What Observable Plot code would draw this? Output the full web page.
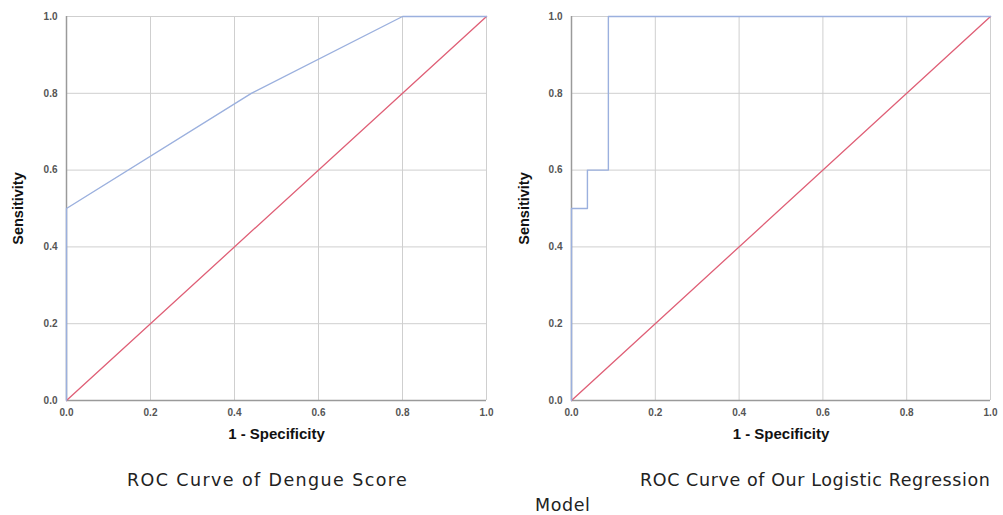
<!DOCTYPE html>
<html>
<head>
<meta charset="utf-8">
<script src="https://cdn.jsdelivr.net/npm/d3@7"></script>
<script src="https://cdn.jsdelivr.net/npm/@observablehq/plot@0.6"></script>
<style>
  html, body { margin: 0; padding: 0; background: #fff; }
  #wrap { position: relative; width: 1003px; height: 515px; overflow: hidden; }
  .panel { position: absolute; top: 0; }
  .cap { position: absolute; font-family: "DejaVu Sans", sans-serif; font-size: 17.5px; letter-spacing: 0.6px; color: #222; white-space: nowrap; line-height: 20px; }
</style>
</head>
<body>
<div id="wrap">
  <div class="panel" id="left" style="left:0px"></div>
  <div class="panel" id="right" style="left:500px"></div>
  <div class="cap" id="c1" style="left:127px; top:470px; letter-spacing:1.4px">ROC Curve of Dengue Score</div>
  <div class="cap" id="c2" style="left:640px; top:470px">ROC Curve of Our Logistic Regression</div>
  <div class="cap" id="c3" style="left:535px; top:495px">Model</div>
</div>
<script>
const ticks = [0, 0.2, 0.4, 0.6, 0.8, 1.0];

// ROC of Dengue Score
const dengueFpr = [0, 0, 0.44, 0.8, 1.0];
const dengueTpr = [0, 0.5, 0.8, 1.0, 1.0];

// ROC of Logistic Regression Model
const logitFpr = [0, 0, 0.038, 0.038, 0.088, 0.088, 1.0];
const logitTpr = [0, 0.5, 0.5, 0.6, 0.6, 1.0, 1.0];

// reference diagonal
const refFpr = [0, 1];
const refTpr = [0, 1];

const curveColor = "#9bb0de";
const refColor = "#df5f76";

function toPts(xs, ys) { return xs.map((x, i) => ({x, y: ys[i]})); }

function roc(el, fpr, tpr, opts) {
  const chart = Plot.plot({
    width: opts.width,
    height: 455,
    marginLeft: opts.ml,
    marginRight: opts.mr,
    marginTop: 16,
    marginBottom: 55,
    style: {fontFamily: "Liberation Sans, Arial, sans-serif", background: "transparent", overflow: "visible"},
    x: {domain: [0, 1], ticks: ticks},
    y: {domain: [0, 1], ticks: ticks},
    marks: [
      Plot.gridX(ticks, {stroke: "#cfcfcf", strokeOpacity: 1, strokeWidth: 1}),
      Plot.gridY(ticks, {stroke: "#cfcfcf", strokeOpacity: 1, strokeWidth: 1}),
      Plot.ruleX([0], {stroke: "#9a9a9a", strokeWidth: 1.5}),
      Plot.ruleY([0], {stroke: "#9a9a9a", strokeWidth: 1.5}),
      Plot.axisX(ticks, {tickSize: 0, tickPadding: 8, fontSize: 10, fill: "#555", fontWeight: "bold", tickFormat: ".1f", label: null}),
      Plot.axisY(ticks, {tickSize: 0, tickPadding: 9, fontSize: 10, fill: "#555", fontWeight: "bold", tickFormat: ".1f", label: null}),
      Plot.line(toPts(refFpr, refTpr), {x: "x", y: "y", stroke: refColor, strokeWidth: 1.3}),
      Plot.line(toPts(fpr, tpr), {x: "x", y: "y", stroke: curveColor, strokeWidth: 1.4}),
      Plot.text(["1 - Specificity"], {frameAnchor: "bottom", dy: 38, fontSize: 15, fontWeight: "bold", fill: "#111", letterSpacing: 2.4}),
      Plot.text(["Sensitivity"], {frameAnchor: "left", textAnchor: "middle", dx: opts.ylx, rotate: -90, fontSize: 14.5, fontWeight: "bold", fill: "#111", letterSpacing: 1})
    ]
  });
  document.getElementById(el).appendChild(chart);
}

roc("left", dengueFpr, dengueTpr, {width: 500, ml: 66, mr: 14, ylx: -48});
roc("right", logitFpr, logitTpr, {width: 503, ml: 71, mr: 13, ylx: -47});
</script>
</body>
</html>
